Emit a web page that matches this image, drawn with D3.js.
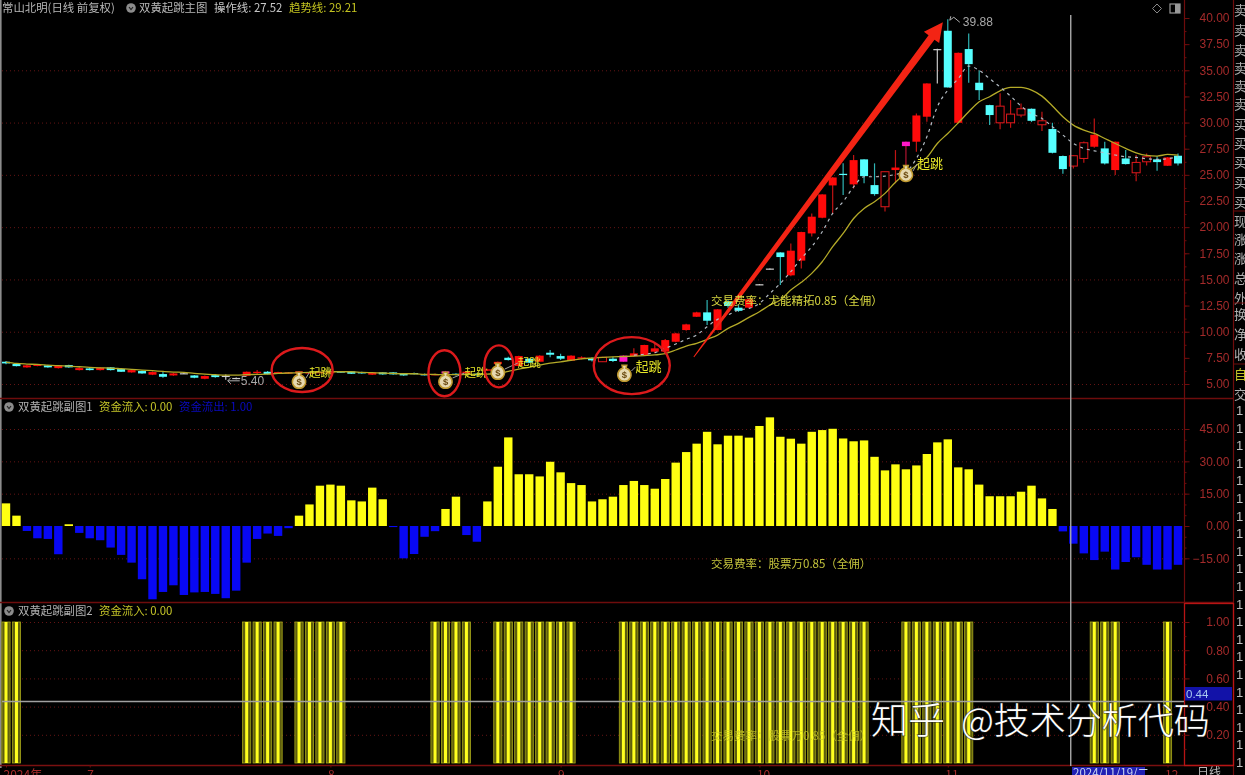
<!DOCTYPE html>
<html><head><meta charset="utf-8">
<script src="https://cdnjs.cloudflare.com/ajax/libs/d3/7.8.5/d3.min.js"></script>
<style>
html,body{margin:0;padding:0;background:#000;overflow:hidden}
svg{display:block;position:absolute;left:0;top:0}
text{font-family:"Noto Sans CJK SC","Liberation Sans",sans-serif}
.num text,text.num{font-family:"Liberation Sans",sans-serif}
</style></head><body>
<svg id="c" width="1245" height="775"></svg>
<script>
// ---------- data ----------
const candleTop=[7.13,6.91,6.78,6.84,6.78,6.78,6.81,6.52,6.49,6.55,
6.59,6.43,6.33,6.24,6.14,5.95,6.01,6.03,5.82,5.76,
5.85,5.78,5.58,6.17,6.17,6.17,6.14,6.11,6.2,6.11,
6.14,6.14,6.2,6.2,6.14,6.11,6.11,6.11,6.01,6.05,
5.94,5.94,6.2,5.98,6.18,5.98,6.4,7.12,7.51,7.67,
7.42,7.71,7.99,7.67,7.71,7.55,7.45,7.55,7.42,7.71,
7.93,8.73,8.41,9.2,9.84,10.7,11.85,11.85,12.14,12.87,
12.3,13.1,14.54,16.04,17.58,17.75,19.53,21.0,23.13,24.75,
25.1,26.41,26.48,24.02,25.3,25.7,28.17,30.68,33.74,37.03,
38.78,36.67,37.03,33.81,31.67,31.57,30.81,31.32,31.32,30.17,
29.38,26.8,26.83,28.07,28.83,27.53,28.17,26.57,26.19,26.73,
26.48,26.67,26.83];
const candleBottom=[6.97,6.71,6.59,6.75,6.59,6.52,6.59,6.33,6.33,6.33,
6.33,6.17,6.11,6.01,5.89,5.69,5.82,5.98,5.60,5.50,
5.66,5.73,5.5,5.79,6.05,5.95,6.01,6.01,6.01,6.05,
6.08,6.08,6.11,5.98,6.01,5.89,5.92,5.92,5.82,5.95,
5.86,5.88,6.0,5.86,6.02,5.84,6.27,6.9,7.29,6.72,
7.04,7.13,7.8,7.42,7.23,7.42,7.26,7.13,7.2,7.13,
7.67,7.77,8.09,8.09,9.04,10.16,11.43,11.05,10.16,12.46,
12.0,12.3,14.48,15.98,17.14,15.39,16.8,19.4,20.9,23.99,
25.0,24.09,24.88,23.16,21.95,25.46,27.75,28.17,30.56,36.97,
33.36,29.98,35.59,33.1,30.72,29.98,29.98,30.72,30.17,29.79,
27.11,25.55,25.84,26.57,27.69,26.09,25.46,26.03,25.2,26.25,
26.22,25.87,26.09];
const candleHigh=[7.2,6.95,6.85,6.9,6.82,6.82,6.85,6.6,6.55,6.6,
6.62,6.47,6.4,6.3,6.2,6.15,6.05,6.08,5.86,5.82,
5.9,5.9,5.62,6.2,6.35,6.25,6.18,6.15,6.25,6.15,
6.18,6.18,6.25,6.24,6.18,6.15,6.15,6.15,6.05,6.1,
6.0,6.0,6.25,6.02,6.24,6.04,6.45,7.15,7.6,7.7,
7.46,7.75,8.25,7.9,7.75,7.65,7.55,7.6,7.6,7.75,
8.41,8.75,8.9,9.3,9.9,10.75,11.9,13.03,12.16,13.0,
12.6,13.15,14.55,16.05,17.6,18.44,19.55,21.3,23.15,24.8,
26.1,26.9,26.5,26.1,25.32,27.37,28.2,30.87,33.76,37.05,
39.88,36.7,38.52,35.0,31.7,32.8,32.15,31.83,31.35,31.03,
29.98,26.85,26.85,28.2,30.4,28.17,28.2,27.37,26.9,27.05,
26.8,26.7,27.05];
const candleLow=[6.9,6.68,6.55,6.7,6.55,6.48,6.55,6.3,6.3,6.28,
6.3,6.14,6.08,5.98,5.85,5.6,5.78,5.95,5.56,5.45,
5.6,5.4,5.45,5.75,5.95,5.9,5.98,5.98,5.98,6.0,
6.05,6.05,6.08,5.95,5.98,5.85,5.88,5.88,5.78,5.9,
5.82,5.85,5.95,5.82,5.98,5.8,6.24,6.85,7.25,6.7,
7.0,7.1,7.55,7.3,7.2,7.35,7.15,7.1,7.1,7.1,
7.6,7.75,7.95,7.9,9.0,10.1,11.4,10.64,10.14,12.3,
11.9,12.25,14.46,15.96,14.46,15.3,16.05,19.1,20.85,21.3,
23.07,23.7,24.2,23.0,21.5,24.2,25.5,27.2,30.08,33.74,
33.36,29.95,33.8,32.15,29.76,29.35,29.5,30.5,30.05,29.2,
27.05,25.1,25.6,26.15,27.6,26.0,24.98,26.0,24.4,25.9,
25.4,25.85,25.9];
// C down, F up (solid), H up (hollow), M signal day, G doji
const candleKind=("CCFFCFCFCF"+"CCFCFCFGCF"+"CGGFFCFFFF"+"FFCCCFCCCC"+"CFMCFCFFCF"+
"CFCCFFCHCM"+"FFFFFFFCFC"+"CFGGCFFFFF"+"CFCCHFMFFG"+"CFCCCHHHCH"+"CCHHFCFCHH"+"CFC").split("");
const trendLine=[7.10,6.97,6.91,6.87,6.81,6.75,6.71,6.65,6.59,6.55,
6.52,6.46,6.40,6.33,6.27,6.20,6.14,6.11,6.01,5.95,
5.89,5.85,5.85,5.89,5.92,5.95,6.01,6.05,6.08,6.11,
6.14,6.17,6.17,6.17,6.11,6.08,6.05,6.01,5.98,5.98,
5.92,5.91,5.90,5.90,5.92,5.93,5.95,6.0,6.2,6.42,
6.6,6.8,7.0,7.12,7.27,7.4,7.48,7.55,7.6,7.63,
7.67,7.72,7.78,7.9,8.25,8.63,8.89,9.27,9.68,10.32,
10.8,11.37,11.91,12.55,13.03,13.98,14.72,15.58,16.69,18.13,
19.4,20.83,21.79,22.43,23.23,24.3,25.15,25.9,26.67,28.0,
28.96,29.98,31.03,31.99,32.47,33.04,33.36,33.36,33.1,32.53,
31.58,30.56,29.76,29.28,28.96,28.48,28.0,27.53,27.11,26.86,
26.8,26.95,26.89];
const operateStart=60;
const operateLine=[7.77,7.85,8.0,8.41,8.82,9.27,9.68,10.48,11.18,11.6,
12.07,12.23,12.71,13.66,14.62,15.74,17.01,18.13,19.56,21.31,
22.43,23.86,24.82,24.82,24.88,25.04,25.3,26.57,28.64,31.5,
33.1,34.2,35.4,35.0,34.2,33.4,32.53,31.58,30.87,30.4,
29.6,28.8,28.0,27.53,27.3,27.1,26.9,26.73,26.67,26.54,
26.48,26.54,26.73];
const moneyFlow=[10.5,4.8,-2.3,-5.7,-6,-13.1,0.8,-3.2,-5.7,-6.6,
-10,-13.4,-17,-24.7,-34,-30.6,-27.5,-32,-30.8,-30.6,
-31.5,-33.5,-30,-17,-6,-3.5,-4.6,-1,4.8,10,
18.7,19.2,18.7,11.9,11.4,17.8,12.4,-0.5,-15,-13,
-5,-2.4,7.9,13.6,-4.2,-7.3,11.4,27.5,41.1,24,
24,23,29.8,24.9,19.9,19,11.4,12.4,13.6,19,
20.9,19,17.3,21.8,29.4,34.3,38.2,43.7,37.9,41.9,
41.9,41,46.4,50.4,41.4,40.5,38.2,43.7,44.5,45.1,
40.6,39.3,39.7,32.1,25.8,28.6,26.3,28.1,33.4,38.8,
40.2,27.2,26.3,19.2,13.8,13.8,13.8,15.9,18.7,12.8,
7.9,-2.5,-8.2,-12.7,-15.8,-11.9,-20.2,-16.7,-14.5,-18,
-20.2,-20.2,-18];
// runs of days on which the flag of the lower panel is 1 [first day, last day]
const flagRuns=[[0,1],[23,26],[28,32],[41,44],[47,54],[59,82],[86,92],[104,106],[111,111]];
const flagValue=1;
const priceTicks=[5,7.5,10,12.5,15,17.5,20,22.5,25,27.5,30,32.5,35,37.5,40];
const priceGrid=[5,10,15,20,25,30,35];
const flowTicks=[-15,0,15,30,45];
const flowGrid=[-15,15,30,45];
const flagTicks=[0.2,0.4,0.6,0.8,1.0];
const monthLabels=["2024年","7","8","9","10","11","12"];
const monthDays=[0,8,31,53,72,90,111];
const signalDays=[28,42,47,59,86];
const signalPrices=[5.38,5.38,6.24,6.05,25.17];
const circledDays=[28.3,41.9,47.1,59.8];
const circledPrices=[6.34,6.03,6.69,6.76];
const cursorDay=101.75, cursorFlagValue=0.44;
const highLabel=39.88, lowLabel=5.40;

// ---------- scales ----------
const svg=d3.select("#c");
const scene=svg.append("g").style("filter","blur(0.55px)");
const x=d3.scaleLinear().domain([0,112]).range([6,1178]);
const yP=d3.scaleLinear().domain([5,40]).range([384,18]);
const yF=d3.scaleLinear().domain([0,45]).range([526,429]);
const yB=d3.scaleLinear().domain([0,1]).range([763,622]);
const DIM="#a32a2a", LINE="#6e0c0c", BRIGHT="#b81414";
const axisX=1184, stripX=1233, panelTop2=398.5, panelTop3=602.5, panelBottom=765.5;

// left edge and grids
scene.append("rect").attr("x",0).attr("y",0).attr("width",1.6).attr("height",768).attr("fill","#8c8c8c");
function grid(vals,scale){
  scene.append("g").selectAll("line").data(vals).join("line")
    .attr("x1",2).attr("x2",axisX).attr("y1",d=>scale(d)+.5).attr("y2",d=>scale(d)+.5)
    .attr("stroke","#641414").attr("stroke-dasharray","1 3");
}
grid(priceGrid,yP);grid(flowGrid,yF);grid(flagTicks,yB);

// frame lines
[[0,stripX,panelTop2],[0,stripX,panelTop3],[0,stripX,panelBottom]].forEach(([a,b,c])=>{
  scene.append("line").attr("x1",a).attr("x2",b).attr("y1",c).attr("y2",c).attr("stroke",c===panelBottom?"#7a1010":LINE).attr("stroke-width",1.4);
});
scene.append("line").attr("x1",axisX+.5).attr("x2",axisX+.5).attr("y1",0).attr("y2",603).attr("stroke",LINE).attr("stroke-width",1.2);
scene.append("line").attr("x1",stripX+.5).attr("x2",stripX+.5).attr("y1",0).attr("y2",775).attr("stroke",LINE).attr("stroke-width",1.2);
scene.append("rect").attr("x",axisX+.5).attr("y",603.5).attr("width",stripX-axisX).attr("height",162).attr("fill","none").attr("stroke",BRIGHT).attr("stroke-width",1.3);

// value axes
function valueAxis(scale,ticks,minor){
  const g=scene.append("g").attr("class","num").attr("transform",`translate(${axisX+.5},0)`);
  g.call(d3.axisRight(scale).tickValues(ticks).tickFormat(d3.format(".2f")).tickSize(5));
  g.select(".domain").remove();
  g.selectAll("line").attr("stroke",LINE);
  g.selectAll("text").attr("x",45).attr("text-anchor","end").attr("fill",DIM).attr("font-size",12).attr("font-family","Liberation Sans");
  const m=scene.append("g").attr("transform",`translate(${axisX+.5},0)`);
  m.call(d3.axisRight(scale).tickValues(minor).tickFormat("").tickSize(2));
  m.select(".domain").remove();m.selectAll("line").attr("stroke",LINE);
}
valueAxis(yP,priceTicks,d3.range(5,40.1,1.25));
valueAxis(yF,flowTicks,d3.range(-15,45.1,5));
valueAxis(yB,flagTicks,d3.range(0.1,1.01,0.1));

// bottom axis
const bottom=scene.append("g").attr("transform",`translate(0,${panelBottom})`);
bottom.call(d3.axisBottom(x).tickValues(monthDays).tickFormat((d,i)=>monthLabels[i]).tickSize(2));
bottom.select(".domain").remove();
bottom.selectAll("line").attr("stroke",LINE);
bottom.selectAll("text").attr("text-anchor","start").attr("dx",-3).attr("y",3).attr("dy","0.9em").attr("fill",DIM).attr("font-size",12);

// candles
const candles=d3.range(113);
const kindColor={C:"#56ffff",F:"#ff0a0a",H:"#e0181c",M:"#ff18c8",G:"#d0d0d0"};
const wickColor={C:"#2fb4b4",F:"#c01414",H:"#c01414",M:"#b01430",G:"#c8c8c8"};
const cg=scene.append("g");
cg.selectAll("line").data(candles).join("line")
  .attr("x1",i=>x(i)).attr("x2",i=>x(i))
  .attr("y1",i=>yP(candleHigh[i])).attr("y2",i=>yP(candleLow[i]))
  .attr("stroke",i=>wickColor[candleKind[i]]).attr("stroke-width",1.2);
cg.selectAll("rect").data(candles).join("rect")
  .attr("x",i=>x(i)-4).attr("width",8)
  .attr("y",i=>yP(candleTop[i]))
  .attr("height",i=>Math.max(1.2,yP(candleBottom[i])-yP(candleTop[i])))
  .attr("fill",i=>candleKind[i]==="H"?"#000":kindColor[candleKind[i]])
  .attr("stroke",i=>candleKind[i]==="H"?kindColor.H:"none").attr("stroke-width",1);

// lines
const lineGen=d3.line().x(d=>x(d[0])).y(d=>yP(d[1])).curve(d3.curveMonotoneX);
scene.append("path").attr("d",lineGen(trendLine.map((v,i)=>[i,v])))
  .attr("fill","none").attr("stroke","#b4aa28").attr("stroke-width",1.3);
scene.append("path").attr("d",lineGen(operateLine.map((v,i)=>[i+operateStart,v])))
  .attr("fill","none").attr("stroke","#b4bcc4").attr("stroke-width",1.2).attr("stroke-dasharray","3 4");

// high and low labels
const lowDay=candleLow.indexOf(lowLabel), highDay=candleHigh.indexOf(highLabel);
scene.append("path").attr("d",`M${x(highDay)+2},${yP(highLabel)+1}L${x(highDay)+6},${yP(highLabel)-2}L${x(highDay)+12},${yP(highLabel)+3}M${x(highDay)+2},${yP(highLabel)+1}L${x(highDay)+3},${yP(highLabel)-3}`)
  .attr("fill","none").attr("stroke","#b0b0b0");
scene.append("text").attr("class","num").attr("x",x(highDay)+15).attr("y",yP(highLabel)+7).attr("fill","#a8a8a8").attr("font-size",12).text(highLabel.toFixed(2));
scene.append("path").attr("d",`M${x(lowDay)+2},${yP(lowLabel)+1}h12M${x(lowDay)+2},${yP(lowLabel)+1}l3,-3M${x(lowDay)+2},${yP(lowLabel)+1}l3,3`)
  .attr("fill","none").attr("stroke","#b0b0b0");
scene.append("text").attr("class","num").attr("x",x(lowDay)+15).attr("y",yP(lowLabel)+5).attr("fill","#a8a8a8").attr("font-size",12).text(lowLabel.toFixed(2));

// arrow
const ax0=x(65.73), ay0=yP(7.58), ax1=x(89.53), ay1=yP(39.6);
const L=Math.hypot(ax1-ax0,ay1-ay0), ux=(ax1-ax0)/L, uy=(ay1-ay0)/L, nx=-uy, ny=ux;
const headLen=19, headW=9.5, nearW=.5, farW=3.7;
const bx=ax1-ux*headLen, by=ay1-uy*headLen;
const neck=[ax0+ux*70,ay0+uy*70];
scene.append("path").attr("fill","#f32414").attr("d",d3.line()([
 [ax0+nx*nearW,ay0+ny*nearW],[neck[0]+nx*2,neck[1]+ny*2],[bx+nx*farW,by+ny*farW],[bx+nx*headW,by+ny*headW],
 [ax1,ay1],[bx-nx*headW,by-ny*headW],[bx-nx*farW,by-ny*farW],[neck[0]-nx*2,neck[1]-ny*2],[ax0-nx*nearW,ay0-ny*nearW]])+"Z");

// captions inside panels (full-width punctuation)
const fee="交易费率\uFF1A股票万0.85\uFF08全佣\uFF09";
scene.append("text").attr("x",711).attr("y",305).attr("fill","#d8d840").attr("font-size",11.5).text("交易费率\uFF1A尤能精拓0.85\uFF08全佣\uFF09");
scene.append("text").attr("x",711).attr("y",568).attr("fill","#c4c43c").attr("font-size",11.5).text(fee);

// middle panel bars
scene.append("g").selectAll("rect").data(moneyFlow).join("rect")
  .attr("x",(d,i)=>x(i)-4.2).attr("width",8.4)
  .attr("y",d=>d>=0?yF(d):yF(0)).attr("height",d=>Math.max(1,Math.abs(yF(d)-yF(0))))
  .attr("fill",d=>d>=0?"#ffff12":"#0808f4");

// lower panel bars
const flagDays=flagRuns.flatMap(([a,b])=>d3.range(a,b+1));
const fb=scene.append("g");
fb.selectAll("rect.o").data(flagDays).join("rect").attr("class","o")
  .attr("x",i=>x(i)-4.1).attr("width",8.2)
  .attr("y",yB(flagValue)).attr("height",yB(0)-yB(flagValue))
  .attr("fill","#5e5e0e").attr("stroke","#a8a818").attr("stroke-width",.8);
fb.selectAll("rect.i").data(flagDays).join("rect").attr("class","i")
  .attr("x",i=>x(i)-1.5).attr("width",3)
  .attr("y",yB(flagValue)).attr("height",yB(0)-yB(flagValue))
  .attr("fill","#ffff1e");
scene.append("text").attr("x",711).attr("y",740).attr("fill","#c8c828").attr("opacity",.8).attr("font-size",11.5).text(fee);

// signal bags
signalDays.forEach((d,k)=>{
  const g=scene.append("g").attr("transform",`translate(${x(d)+(k===3?1:0)},${yP(signalPrices[k])})`);
  const b=g.append("g").attr("transform","scale(1.18)");
  b.append("path").attr("d","M-2,-6.5L2,-6.5L1.3,-4A5.6,5.6,0,1,1,-1.3,-4Z").attr("fill","#e6d9b0").attr("stroke","#c09a30").attr("stroke-width",1.3);
  b.append("text").attr("class","num").attr("y",4).attr("text-anchor","middle").attr("font-size",8).attr("font-weight","bold").attr("fill","#6a4a10").attr("font-family","Liberation Sans").text("$");
  const tx=[10,19,20,11,11][k], ty=[-3,-3,-4,-2,-5][k];
  g.append("line").attr("x1",7).attr("x2",tx).attr("y1",-2).attr("y2",ty-4).attr("stroke","#a0a0a0");
  g.append("text").attr("x",tx).attr("y",ty).attr("fill","#e6e628").attr("font-size",k>2?13:11.5).text("起跳");
});

// red ovals
const rx=[30.5,16,14.5,38], ry=[22,23,21,28.5];
scene.append("g").selectAll("ellipse").data(circledDays).join("ellipse")
  .attr("cx",d=>x(d)).attr("cy",(d,i)=>yP(circledPrices[i]))
  .attr("rx",(d,i)=>rx[i]).attr("ry",(d,i)=>ry[i])
  .attr("fill","none").attr("stroke","#dc1a1c").attr("stroke-width",2.4);

// cursor
scene.append("line").attr("x1",x(cursorDay)).attr("x2",x(cursorDay)).attr("y1",15).attr("y2",766).attr("stroke","#a8a8a8").attr("stroke-width",1.4);
scene.append("line").attr("x1",2).attr("x2",axisX).attr("y1",701.5).attr("y2",701.5).attr("stroke","#a0a0a0").attr("stroke-width",1.3);
scene.append("rect").attr("x",1185).attr("y",687).attr("width",47).attr("height",13.5).attr("fill","#1212a8");
scene.append("text").attr("class","num").attr("x",1186).attr("y",698).attr("fill","#a8c8f0").attr("font-size",11.5).text(cursorFlagValue.toFixed(2));
scene.append("rect").attr("x",1072).attr("y",767).attr("width",73).attr("height",9).attr("fill","#2020b4");
scene.append("text").attr("x",1073).attr("y",777).attr("fill","#c8d4f0").attr("font-size",11.5).attr("font-family","Liberation Sans").text("2024/11/19/二");
scene.append("text").attr("x",1197).attr("y",777).attr("fill","#b8b8b8").attr("font-size",12).text("日线");

// header rows
function header(rows,y){
  rows.forEach(([t,xx,c,w])=>scene.append("text").attr("x",xx).attr("y",y).attr("fill",c).attr("font-size",11.4).attr("font-weight",w||400).text(t));
}
function dot(cx,cy){
  scene.append("circle").attr("cx",cx).attr("cy",cy).attr("r",4.8).attr("fill","#8c8c8c");
  scene.append("path").attr("d",`M${cx-2},${cy-1}L${cx},${cy+1.5}L${cx+2},${cy-1}`).attr("fill","none").attr("stroke","#222").attr("stroke-width",1.2);
}
header([["常山北明(日线 前复权)",2,"#b8b8b8"],["双黄起跳主图",139,"#b8b8b8"],["操作线: 27.52",214,"#c8c8c8"],["趋势线: 29.21",289,"#c4c420"]],12);dot(131,8);
header([["双黄起跳副图1",18,"#b0b0b0"],["资金流入: 0.00",99,"#c4c428"],["资金流出: 1.00",179,"#0a0ac0"]],411);dot(9,407);
header([["双黄起跳副图2",18,"#b0b0b0"],["资金流入: 0.00",99,"#c4c428"]],615);dot(9,611);

// toolbar icons
scene.append("path").attr("d","M1157,4L1161.5,8.5L1157,13L1152.5,8.5Z").attr("fill","none").attr("stroke","#888");
scene.append("rect").attr("x",1170).attr("y",4).attr("width",10).attr("height",9).attr("fill","none").attr("stroke","#999").attr("stroke-width",1.2);
scene.append("rect").attr("x",1175).attr("y",4).attr("width",5).attr("height",9).attr("fill","#999");

// right strip
const stripChars="卖卖卖卖卖卖买买买买买现涨涨总外换净收自交".split("");
const stripY=[14,34,54,72,90,108,128,147,166,186,206,225,243,262,282,302,318,338,358,378,398];
scene.append("g").selectAll("text").data(stripChars).join("text")
  .attr("x",1234).attr("y",(d,i)=>stripY[i]+1).attr("font-size",13)
  .attr("fill",d=>d==="自"?"#c4c428":"#b0b0b0").text(d=>d);
[211,303,364].forEach(v=>scene.append("line").attr("x1",1233).attr("x2",1245).attr("y1",v).attr("y2",v).attr("stroke",LINE));
scene.append("g").attr("class","num").selectAll("text").data(d3.range(410,776,17.6)).join("text")
  .attr("x",1236).attr("y",d=>d+5).attr("font-size",13).attr("fill","#bdbdbd").attr("font-family","Liberation Sans").text("1");

// watermark
const mark=svg.append("g").attr("fill","#fff").style("paint-order","stroke").attr("stroke","rgba(40,40,40,.65)").attr("stroke-width",1.5).attr("font-weight",300);
mark.append("text").attr("x",871).attr("y",734).attr("font-size",37).text("知乎");
mark.append("text").attr("x",961).attr("y",734).attr("font-size",36).text("@技术分析代码");
</script>
</body></html>
